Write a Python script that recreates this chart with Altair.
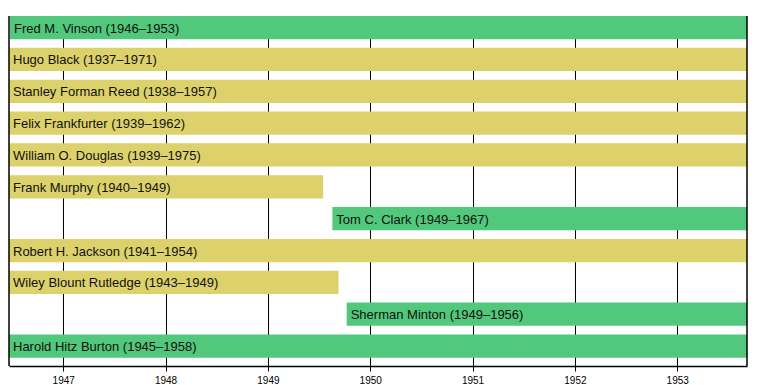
import altair as alt
import pandas as pd

names = [
    "Fred M. Vinson (1946–1953)",
    "Hugo Black (1937–1971)",
    "Stanley Forman Reed (1938–1957)",
    "Felix Frankfurter (1939–1962)",
    "William O. Douglas (1939–1975)",
    "Frank Murphy (1940–1949)",
    "Tom C. Clark (1949–1967)",
    "Robert H. Jackson (1941–1954)",
    "Wiley Blount Rutledge (1943–1949)",
    "Sherman Minton (1949–1956)",
    "Harold Hitz Burton (1945–1958)",
]
starts = [1946.48, 1937.63, 1938.08, 1939.08, 1939.30, 1940.04, 1949.63, 1941.53, 1943.10, 1949.77, 1945.75]
ends = [1953.69, 1971.71, 1957.15, 1962.66, 1975.87, 1949.54, 1967.45, 1954.78, 1949.69, 1956.79, 1958.79]
groups = ["truman", "roosevelt", "roosevelt", "roosevelt", "roosevelt", "roosevelt",
          "truman", "roosevelt", "roosevelt", "truman", "truman"]
x_domain = [1946.47, 1953.682]
tick_years = [1947, 1948, 1949, 1950, 1951, 1952, 1953]

df = pd.DataFrame({"name": names, "start": starts, "end": ends, "group": groups})

W, H = 738, 350
FONT = "Liberation Sans"

xscale = alt.Scale(domain=x_domain, nice=False, zero=False)
yscale = alt.Scale(paddingInner=0.27, paddingOuter=0.131, align=0)
color = alt.Color("group:N", scale=alt.Scale(domain=["truman", "roosevelt"],
                                             range=["#51C87B", "#DDD16B"]), legend=None)

base = alt.Chart(df)

bars = base.mark_bar(clip=True, cornerRadius=0).encode(
    x=alt.X("start:Q", scale=xscale,
            axis=alt.Axis(values=tick_years, format="d", title=None, grid=True,
                          gridColor="#000", gridOpacity=1, gridWidth=1,
                          domainColor="#000", domainWidth=1.5, tickColor="#000",
                          tickSize=5, labelFont=FONT, labelFontSize=10,
                          labelColor="#000", labelPadding=4)),
    x2="end:Q",
    y=alt.Y("name:N", sort=names, scale=yscale, axis=None),
    color=color,
)

labels = base.transform_calculate(
    lx=f"max(datum.start, {x_domain[0]})"
).mark_text(align="left", baseline="middle", dx=4, dy=1, font=FONT,
            fontSize=13, color="#111").encode(
    x=alt.X("lx:Q", scale=xscale),
    y=alt.Y("name:N", sort=names, scale=yscale),
    text="name:N",
)

edge_df = pd.DataFrame({"xv": x_domain})
edges = alt.Chart(edge_df).mark_rule(color="#000", strokeWidth=1.5).encode(
    x=alt.X("xv:Q", scale=xscale),
)

chart = alt.layer(bars, labels, edges).properties(
    width=W, height=H,
    padding={"left": 0, "top": 7, "right": 5, "bottom": 0},
).configure_view(stroke=None).configure_axis(gridOpacity=1)

chart.save("out.html", embed_options={"renderer": "svg", "actions": False})
